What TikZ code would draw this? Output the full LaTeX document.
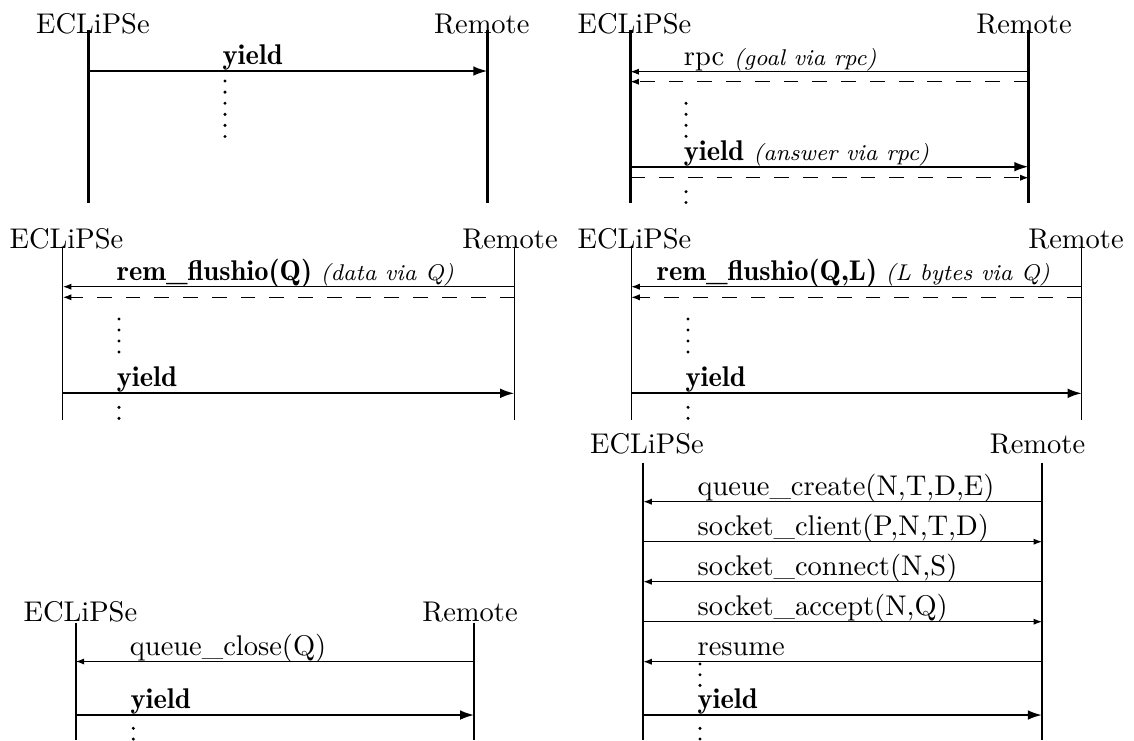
\documentclass[tikz,border=0pt]{standalone}
\usepackage{tikz}
\usetikzlibrary{arrows.meta}

\newcommand{\boldlbl}[1]{{\fontseries{b}\selectfont #1}}
\newcommand{\notelbl}[1]{{\footnotesize\itshape #1}}

\begin{document}
\begin{tikzpicture}[x=0.351pt,y=-0.351pt,
    actor/.style={anchor=base,inner sep=0pt},
    lbl/.style={anchor=base west,inner sep=0pt},
    life/.style={line width=0.8pt},
    lifethin/.style={line width=0.4pt},
    msg/.style={-{Latex[length=3pt,width=2.2pt]},line width=0.4pt},
    dmsg/.style={msg,dash pattern=on 5.2pt off 4.9pt},
    yld/.style={-{Latex[length=5pt,width=3.4pt]},line width=0.75pt}]
    \useasboundingbox (0,0) rectangle (1134,740);

    % yield
    \node[actor] (ecl1) at (92.9,33.3) {ECLiPSe};
    \node[actor] (rem1) at (481.8,33.3) {Remote};
    \coordinate (e1t) at (88.6,30);  \coordinate (e1b) at (88.6,203.3);
    \coordinate (r1t) at (487.5,30); \coordinate (r1b) at (487.5,203.3);
    \coordinate (e1y) at (88.6,71);  \coordinate (r1y) at (487.5,71);
    \draw[life] (e1t) -- (e1b);
    \draw[life] (r1t) -- (r1b);
    \draw[yld] (e1y) -- (r1y);
    \node[lbl] (y1) at (222,64.5) {\boldlbl{yield}};
    \foreach \k in {0,...,5} \fill (225,81+11.1*\k) circle (1.7);

    % rpc
    \node[actor] (ecl2) at (634.5,33.3) {ECLiPSe};
    \node[actor] (rem2) at (1024,33.3) {Remote};
    \coordinate (e2t) at (630.4,30);  \coordinate (e2b) at (630.4,203.3);
    \coordinate (r2t) at (1028.6,30); \coordinate (r2b) at (1028.6,203.3);
    \foreach \n/\y in {1/71.7,2/81.7,3/166.7,4/177.7}{
        \coordinate (e2\n) at (630.4,\y); \coordinate (r2\n) at (1028.6,\y);}
    \draw[life] (e2t) -- (e2b);
    \draw[life] (r2t) -- (r2b);
    \draw[msg] (r21) -- (e21);
    \draw[dmsg] (r22) -- (e22);
    \draw[yld] (e23) -- (r23);
    \draw[dmsg] (e24) -- (r24);
    \node[lbl] (rpc2) at (683.3,65.2) {rpc \notelbl{(goal via rpc)}};
    \node[lbl] (y2) at (683.3,160.2) {\boldlbl{yield} \notelbl{(answer via rpc)}};
    \foreach \y in {103.3,114.3,125.3,136.3,191.7,202.5} \fill (686,\y) circle (1.7);

    % rem_flushio(Q)
    \node[actor] (ecl3) at (66.5,248.3) {ECLiPSe};
    \node[actor] (rem3) at (510,248.3) {Remote};
    \coordinate (e3t) at (62.9,248.3); \coordinate (e3b) at (62.9,420);
    \coordinate (r3t) at (514.4,248.3); \coordinate (r3b) at (514.4,420);
    \foreach \n/\y in {1/286.7,2/297.3,3/393.3}{
        \coordinate (e3\n) at (62.9,\y); \coordinate (r3\n) at (514.4,\y);}
    \draw[lifethin] (e3t) -- (e3b);
    \draw[lifethin] (r3t) -- (r3b);
    \draw[msg] (r31) -- (e31);
    \draw[dmsg] (r32) -- (e32);
    \draw[yld] (e33) -- (r33);
    \node[lbl] (f3) at (116.3,280.2) {\boldlbl{rem\_flushio(Q)}\hspace{3pt}\notelbl{(data via Q)}};
    \node[lbl] (y3) at (116.3,386.8) {\boldlbl{yield}};
    \foreach \y in {319,330,341,352,407.3,418.3} \fill (119,\y) circle (1.7);

    % rem_flushio(Q,L)
    \node[actor] (ecl4) at (634.5,248.3) {ECLiPSe};
    \node[actor] (rem4) at (1076,248.3) {Remote};
    \coordinate (e4t) at (631.2,248.3); \coordinate (e4b) at (631.2,420);
    \coordinate (r4t) at (1081.9,248.3); \coordinate (r4b) at (1081.9,420);
    \foreach \n/\y in {1/286.7,2/297.3,3/393.3}{
        \coordinate (e4\n) at (631.2,\y); \coordinate (r4\n) at (1081.9,\y);}
    \draw[lifethin] (e4t) -- (e4b);
    \draw[lifethin] (r4t) -- (r4b);
    \draw[msg] (r41) -- (e41);
    \draw[dmsg] (r42) -- (e42);
    \draw[yld] (e43) -- (r43);
    \node[lbl] (f4) at (656.3,280.2) {\boldlbl{rem\_flushio(Q,L)}\hspace{3pt}\notelbl{(L bytes via Q)}};
    \node[lbl] (y4) at (685,386.8) {\boldlbl{yield}};
    \foreach \y in {319,330,341,352,407.3,418.3} \fill (688,\y) circle (1.7);

    % queue / socket setup
    \node[actor] (ecl5) at (647,453.3) {ECLiPSe};
    \node[actor] (rem5) at (1037.5,453.3) {Remote};
    \coordinate (e5t) at (643.3,462.7); \coordinate (e5b) at (643.3,740);
    \coordinate (r5t) at (1042.1,462.7); \coordinate (r5b) at (1042.1,740);
    \foreach \n/\y in {1/501.7,2/541.7,3/581.7,4/621.7,5/661.7,6/715}{
        \coordinate (e5\n) at (643.3,\y); \coordinate (r5\n) at (1042.1,\y);}
    \draw[life] (e5t) -- (e5b);
    \draw[life] (r5t) -- (r5b);
    \draw[msg] (r51) -- (e51);
    \draw[msg] (e52) -- (r52);
    \draw[msg] (r53) -- (e53);
    \draw[msg] (e54) -- (r54);
    \draw[msg] (r55) -- (e55);
    \draw[yld] (e56) -- (r56);
    \node[lbl] (m51) at (697,495.2) {queue\_create(N,T,D,E)};
    \node[lbl] (m52) at (697,535.2) {socket\_client(P,N,T,D)};
    \node[lbl] (m53) at (697,575.2) {socket\_connect(N,S)};
    \node[lbl] (m54) at (697,615.2) {socket\_accept(N,Q)};
    \node[lbl] (m55) at (697,655.2) {resume};
    \node[lbl] (y5) at (697,708.5) {\boldlbl{yield}};
    \foreach \y in {664,674.7,685.3,728.3,739} \fill (700,\y) circle (1.7);

    % queue_close
    \node[actor] (ecl6) at (80.4,621.7) {ECLiPSe};
    \node[actor] (rem6) at (470,621.7) {Remote};
    \coordinate (e6t) at (75.7,623); \coordinate (e6b) at (75.7,740);
    \coordinate (r6t) at (474.3,623); \coordinate (r6b) at (474.3,740);
    \foreach \n/\y in {1/661.5,2/715}{
        \coordinate (e6\n) at (75.7,\y); \coordinate (r6\n) at (474.3,\y);}
    \draw[life] (e6t) -- (e6b);
    \draw[life] (r6t) -- (r6b);
    \draw[msg] (r61) -- (e61);
    \draw[yld] (e62) -- (r62);
    \node[lbl] (c6) at (129.3,655) {queue\_close(Q)};
    \node[lbl] (y6) at (130,708.5) {\boldlbl{yield}};
    \foreach \y in {728.3,739} \fill (133.3,\y) circle (1.7);
\end{tikzpicture}
\end{document}
